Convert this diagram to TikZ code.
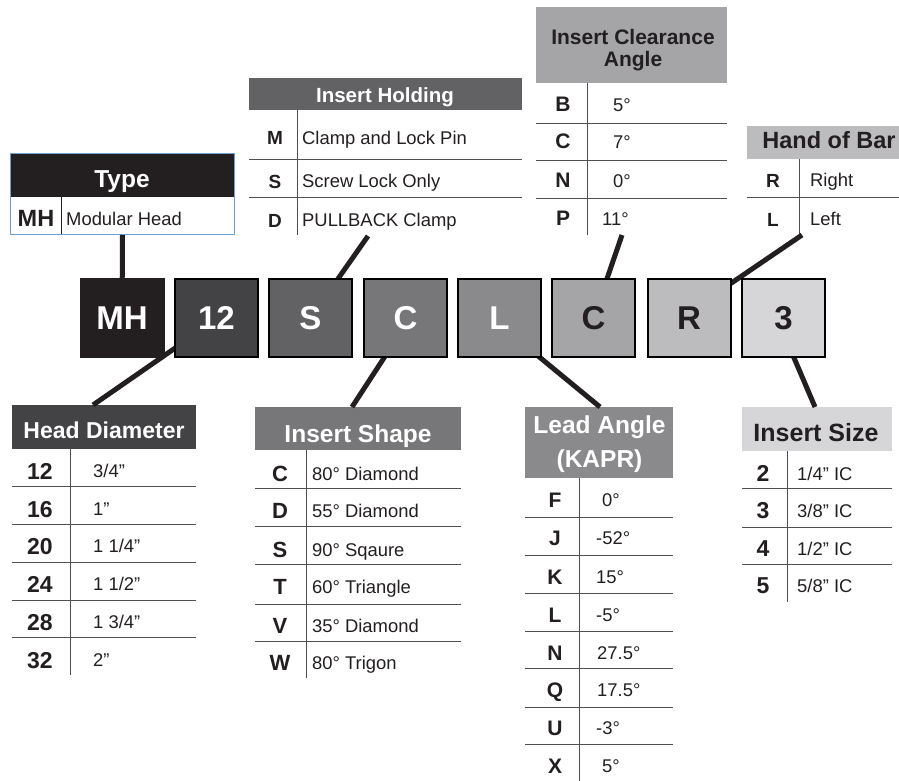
\documentclass[tikz,border=0pt]{standalone}
\usepackage{fontspec}
\setmainfont{Liberation Sans}
\usetikzlibrary{calc}
\definecolor{c1}{HTML}{231F20}
\definecolor{c2}{HTML}{434345}
\definecolor{c3}{HTML}{626264}
\definecolor{c4}{HTML}{77777A}
\definecolor{c5}{HTML}{8A8A8D}
\definecolor{c6}{HTML}{A5A5A7}
\definecolor{c7}{HTML}{BCBCBE}
\definecolor{c8}{HTML}{D6D6D8}
\definecolor{typeblue}{HTML}{6A9FD8}
\definecolor{rulec}{HTML}{505052}
\begin{document}
\begin{tikzpicture}[x=1pt,y=-1pt,
  code/.style={draw=black, line width=2pt, minimum width=83pt, minimum height=78pt, inner sep=0pt, font=\fontsize{33}{33}\bfseries},
  hdrbox/.style={inner sep=0pt, outer sep=0pt, anchor=north west},
  hdtext/.style={anchor=base, inner sep=0pt, font=\fontsize{#1}{#1}\bfseries},
  keyt/.style={anchor=base, inner sep=0pt, font=\fontsize{#1}{#1}\bfseries, text=c1},
  valt/.style={anchor=base west, inner sep=0pt, font=\fontsize{18.4}{18.4}\selectfont, text=c1},
  sepline/.style={draw=rulec, line width=0.9pt},
  divline/.style={draw=rulec, line width=0.9pt},
  conn/.style={draw=c1, line width=5pt},
]
\fill[white] (0,0) rectangle (899,781);
\useasboundingbox (0,0) rectangle (899,781);

% ---------- connector end points ----------
\coordinate (holdEnd) at (368,236);
\coordinate (clrEnd) at (622,235);
\coordinate (handEnd) at (802,235);
\coordinate (hdEnd) at (93,405);
\coordinate (shEnd) at (352,407);
\coordinate (ldEnd) at (600,407);
\coordinate (szEnd) at (815,407);

% ---------- Type ----------
\node[hdrbox, fill=c1, minimum width=224pt, minimum height=44pt] (typeH) at (10,153) {};
\node[hdtext=24.5, text=white] (typeT) at (122,187) {Type};
\draw[draw=c1, line width=0.9pt] (61,197) -- (61,234);
\node[keyt=23.5] (typeK1) at (36,226) {MH};
\node[valt] (typeV1) at (66,225) {Modular Head};
\node[draw=typeblue, line width=1pt, minimum width=224pt, minimum height=81pt, anchor=north west, inner sep=0pt] (typeB) at (10,153) {};

% ---------- Insert Holding ----------
\node[hdrbox, fill=c3, minimum width=273pt, minimum height=32pt] (holdH) at (249,78) {};
\node[hdtext=20.5, text=white] (holdT) at (385,103) {Insert Holding};
\foreach \y in {159,197} \draw[sepline] (249,\y) -- (522,\y);
\draw[divline] (297,110) -- (297,235);
\node[keyt=19] (holdK1) at (275,145) {M};
\node[keyt=19] (holdK2) at (275,188) {S};
\node[keyt=19] (holdK3) at (275,227) {D};
\node[valt] (holdV1) at (302,144) {Clamp and Lock Pin};
\node[valt] (holdV2) at (302,187) {Screw Lock Only};
\node[valt] (holdV3) at (302,226) {PULLBACK Clamp};

% ---------- Insert Clearance Angle ----------
\node[hdrbox, fill=c6, minimum width=191pt, minimum height=76pt] (clrH) at (536,7) {};
\node[hdtext=21, text=c1] (clrT1) at (633,45) {Insert Clearance};
\node[hdtext=21, text=c1] (clrT2) at (633,67) {Angle};
\foreach \y in {123,160,198} \draw[sepline] (536,\y) -- (727,\y);
\draw[divline] (587,83) -- (587,235);
\node[keyt=21] (clrK1) at (563,112) {B};
\node[keyt=21] (clrK2) at (563,149) {C};
\node[keyt=21] (clrK3) at (563,187) {N};
\node[keyt=21] (clrK4) at (563,225) {P};
\node[valt] (clrV1) at (613,112) {5°};
\node[valt] (clrV2) at (613,149) {7°};
\node[valt] (clrV3) at (613,187) {0°};
\node[valt] (clrV4) at (602,225) {11°};

% ---------- Hand of Bar ----------
\node[hdrbox, fill=c7, minimum width=152pt, minimum height=33pt] (handH) at (747,126) {};
\node[hdtext=23.5, text=c1] (handT) at (829,149) {Hand of Bar};
\draw[sepline] (747,197) -- (899,197);
\draw[divline] (799,159) -- (799,235);
\node[keyt=19] (handK1) at (773,187) {R};
\node[keyt=19] (handK2) at (773,226) {L};
\node[valt] (handV1) at (810,186) {Right};
\node[valt] (handV2) at (810,225) {Left};

% ---------- Head Diameter ----------
\node[hdrbox, fill=c2, minimum width=184pt, minimum height=44pt] (hdH) at (12,405) {};
\node[hdtext=23, text=white] (hdT) at (104,438) {Head Diameter};
\foreach \y in {486,524,562,600,637} \draw[sepline] (12,\y) -- (196,\y);
\draw[divline] (70,449) -- (70,675);
\node[keyt=23] (hdK1) at (40,479) {12};
\node[keyt=23] (hdK2) at (40,517) {16};
\node[keyt=23] (hdK3) at (40,554) {20};
\node[keyt=23] (hdK4) at (40,592) {24};
\node[keyt=23] (hdK5) at (40,630) {28};
\node[keyt=23] (hdK6) at (40,668) {32};
\node[valt] (hdV1) at (93,477) {3/4”};
\node[valt] (hdV2) at (93,515) {1”};
\node[valt] (hdV3) at (93,552) {1 1/4”};
\node[valt] (hdV4) at (93,590) {1 1/2”};
\node[valt] (hdV5) at (93,628) {1 3/4”};
\node[valt] (hdV6) at (93,666) {2”};

% ---------- Insert Shape ----------
\node[hdrbox, fill=c4, minimum width=206pt, minimum height=43pt] (shH) at (255,407) {};
\node[hdtext=24.5, text=white] (shT) at (358,442) {Insert Shape};
\foreach \y in {488,526,564,604,641} \draw[sepline] (255,\y) -- (461,\y);
\draw[divline] (306,450) -- (306,678);
\node[keyt=22] (shK1) at (280,481) {C};
\node[keyt=22] (shK2) at (280,518) {D};
\node[keyt=22] (shK3) at (280,557) {S};
\node[keyt=22] (shK4) at (280,594) {T};
\node[keyt=22] (shK5) at (280,633) {V};
\node[keyt=22] (shK6) at (280,670) {W};
\node[valt] (shV1) at (312,480) {80° Diamond};
\node[valt] (shV2) at (312,517) {55° Diamond};
\node[valt] (shV3) at (312,556) {90° Sqaure};
\node[valt] (shV4) at (312,593) {60° Triangle};
\node[valt] (shV5) at (312,632) {35° Diamond};
\node[valt] (shV6) at (312,669) {80° Trigon};

% ---------- Lead Angle ----------
\node[hdrbox, fill=c5, minimum width=148pt, minimum height=71pt] (ldH) at (525,407) {};
\node[hdtext=24.5, text=white] (ldT1) at (599.5,433) {Lead Angle};
\node[hdtext=24.5, text=white] (ldT2) at (599.5,467) {(KAPR)};
\foreach \y in {517,555,593,631,668,707,744} \draw[sepline] (525,\y) -- (673,\y);
\draw[divline] (579,478) -- (579,781);
\node[keyt=21] (ldK1) at (555,507) {F};
\node[keyt=21] (ldK2) at (555,545) {J};
\node[keyt=21] (ldK3) at (555,584) {K};
\node[keyt=21] (ldK4) at (555,622) {L};
\node[keyt=21] (ldK5) at (555,660) {N};
\node[keyt=21] (ldK6) at (555,697) {Q};
\node[keyt=21] (ldK7) at (555,735) {U};
\node[keyt=21] (ldK8) at (555,773) {X};
\node[valt] (ldV1) at (602,506) {0°};
\node[valt] (ldV2) at (596,544) {-52°};
\node[valt] (ldV3) at (596,583) {15°};
\node[valt] (ldV4) at (596,621) {-5°};
\node[valt] (ldV5) at (597,659) {27.5°};
\node[valt] (ldV6) at (597,696) {17.5°};
\node[valt] (ldV7) at (596,734) {-3°};
\node[valt] (ldV8) at (602,772) {5°};

% ---------- Insert Size ----------
\node[hdrbox, fill=c8, minimum width=150pt, minimum height=44pt] (szH) at (742,407) {};
\node[hdtext=25, text=c1] (szT) at (816,441) {Insert Size};
\foreach \y in {488,527,564} \draw[sepline] (742,\y) -- (892,\y);
\draw[divline] (787,451) -- (787,602);
\node[keyt=23] (szK1) at (763,481) {2};
\node[keyt=23] (szK2) at (763,518) {3};
\node[keyt=23] (szK3) at (763,556) {4};
\node[keyt=23] (szK4) at (763,593) {5};
\node[valt] (szV1) at (797,480) {1/4” IC};
\node[valt] (szV2) at (797,517) {3/8” IC};
\node[valt] (szV3) at (797,555) {1/2” IC};
\node[valt] (szV4) at (797,592) {5/8” IC};

% ---------- code boxes (positions) ----------
\path (122,318) coordinate (pMH) (216.5,318) coordinate (p12) (310.5,318) coordinate (pS)
      (405.5,318) coordinate (pC) (499.5,318) coordinate (pL) (593.5,318) coordinate (pC2)
      (689,318) coordinate (pR) (783.5,318) coordinate (p3);

% connectors first (boxes drawn over them)
\draw[conn] (typeB.south) -- (pMH);
\draw[conn] (pS) -- (holdEnd);
\draw[conn] (pC2) -- (clrEnd);
\draw[conn] ($(pR)+(-9,0)$) -- (handEnd);
\draw[conn] ($(p12)+(2,0)$) -- (hdEnd);
\draw[conn] ($(pC)+(4.5,0)$) -- (shEnd);
\draw[conn] ($(pL)+(-7.5,0)$) -- (ldEnd);
\draw[conn] ($(p3)+(-6.5,0)$) -- (szEnd);

\node[code, fill=c1, draw=c1, text=white] (cMH) at (pMH) {MH};
\node[code, fill=c2, text=white] (c12) at (p12) {12};
\node[code, fill=c3, text=white] (cS) at (pS) {S};
\node[code, fill=c4, text=white] (cC) at (pC) {C};
\node[code, fill=c5, text=white] (cL) at (pL) {L};
\node[code, fill=c6, text=c1] (cC2) at (pC2) {C};
\node[code, fill=c7, text=c1] (cR) at (pR) {R};
\node[code, fill=c8, text=c1] (c3) at (p3) {3};
\end{tikzpicture}
\end{document}
